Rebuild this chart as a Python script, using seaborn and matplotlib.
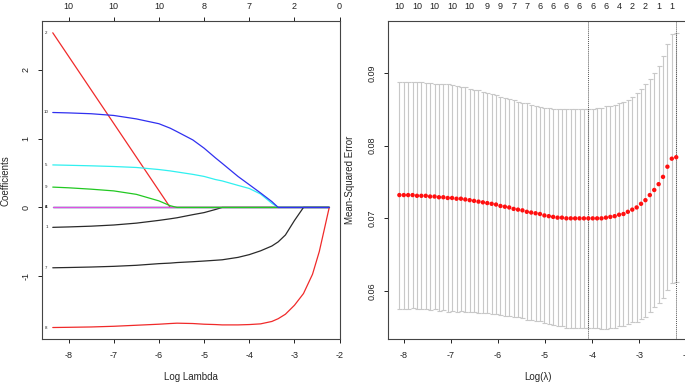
import matplotlib
matplotlib.use("Agg")
import numpy as np
import pandas as pd
import seaborn as sns
import matplotlib.pyplot as plt

# ---- left panel: lasso coefficient paths ----
path_loglam = [-8.35, -8.0, -7.5, -7.0, -6.5, -6.0, -5.75, -5.6, -5.25, -5.0, -4.75, -4.6,
               -4.25, -4.0, -3.75, -3.5, -3.36, -3.2, -3.0, -2.8, -2.6, -2.45, -2.35, -2.23]
coef_1 = [-0.289, -0.283, -0.272, -0.255, -0.228, -0.188, -0.165, -0.15, -0.105, -0.075, -0.03, 0,
          0, 0, 0, 0, 0, 0, 0, 0, 0, 0, 0, 0]
coef_2 = [2.535, 2.194, 1.706, 1.219, 0.731, 0.244, 0, 0, 0, 0, 0, 0,
          0, 0, 0, 0, 0, 0, 0, 0, 0, 0, 0, 0]
coef_3 = [0.0] * 24
coef_4 = [0.0] * 24
coef_5 = [0.617, 0.612, 0.604, 0.594, 0.58, 0.55, 0.53, 0.515, 0.48, 0.45, 0.405, 0.385,
          0.32, 0.275, 0.195, 0.06, 0, 0, 0, 0, 0, 0, 0, 0]
coef_6 = [0.0] * 24
coef_7 = [-0.876, -0.872, -0.865, -0.855, -0.84, -0.816, -0.808, -0.80, -0.788, -0.778, -0.767, -0.76,
          -0.725, -0.685, -0.63, -0.56, -0.50, -0.40, -0.19, 0, 0, 0, 0, 0]
coef_8 = [-1.743, -1.74, -1.735, -1.725, -1.71, -1.695, -1.685, -1.68, -1.685, -1.695, -1.70, -1.705,
          -1.705, -1.70, -1.69, -1.655, -1.615, -1.55, -1.42, -1.25, -0.97, -0.64, -0.35, 0]
coef_9 = [0.295, 0.285, 0.265, 0.24, 0.19, 0.095, 0.025, 0, 0, 0, 0, 0,
          0, 0, 0, 0, 0, 0, 0, 0, 0, 0, 0, 0]
coef_10 = [1.378, 1.372, 1.36, 1.335, 1.285, 1.215, 1.15, 1.10, 0.98, 0.86, 0.72, 0.64,
           0.45, 0.33, 0.21, 0.085, 0, 0, 0, 0, 0, 0, 0, 0]
coefs = [coef_1, coef_2, coef_3, coef_4, coef_5, coef_6, coef_7, coef_8, coef_9, coef_10]
var_names = [str(i) for i in range(1, 11)]
top_df_left = ["10", "10", "10", "8", "7", "2", "0"]

# ---- right panel: cross-validation curve ----
cv_loglam = [-8.090, -7.997, -7.904, -7.810, -7.717, -7.624, -7.531, -7.438, -7.344, -7.251,
             -7.158, -7.065, -6.972, -6.878, -6.785, -6.692, -6.599, -6.506, -6.412, -6.319,
             -6.226, -6.133, -6.040, -5.946, -5.853, -5.760, -5.667, -5.574, -5.480, -5.387,
             -5.294, -5.201, -5.108, -5.014, -4.921, -4.828, -4.735, -4.642, -4.548, -4.455,
             -4.362, -4.269, -4.176, -4.082, -3.989, -3.896, -3.803, -3.710, -3.616, -3.523,
             -3.430, -3.337, -3.244, -3.150, -3.057, -2.964, -2.871, -2.778, -2.684, -2.591,
             -2.498, -2.405, -2.312, -2.218]
cv_mean = [0.0732, 0.0732, 0.0732, 0.0732, 0.0731, 0.0731, 0.0731, 0.0730, 0.0730, 0.0729,
           0.0729, 0.0728, 0.0728, 0.0727, 0.0727, 0.0726, 0.0725, 0.0724, 0.0723, 0.0722,
           0.0721, 0.0720, 0.0719, 0.0717, 0.0716, 0.0715, 0.0713, 0.0712, 0.0711, 0.0709,
           0.0708, 0.0707, 0.0706, 0.0704, 0.0703, 0.0702, 0.0701, 0.0701, 0.0700, 0.0700,
           0.0700, 0.0700, 0.0700, 0.0700, 0.0700, 0.0700, 0.0700, 0.0701, 0.0702, 0.0703,
           0.0705, 0.0706, 0.0709, 0.0712, 0.0715, 0.0720, 0.0725, 0.0732, 0.0739, 0.0747,
           0.0757, 0.0771, 0.0782, 0.0784]
cv_upper = [0.0888, 0.0888, 0.0888, 0.0887, 0.0887, 0.0887, 0.0886, 0.0886, 0.0885, 0.0885,
            0.0884, 0.0884, 0.0883, 0.0882, 0.0881, 0.0880, 0.0878, 0.0877, 0.0876, 0.0874,
            0.0872, 0.0871, 0.0869, 0.0867, 0.0866, 0.0864, 0.0862, 0.0860, 0.0859, 0.0858,
            0.0856, 0.0855, 0.0853, 0.0852, 0.0851, 0.0850, 0.0850, 0.0850, 0.0850, 0.0850,
            0.0850, 0.0850, 0.0850, 0.0850, 0.0850, 0.0851, 0.0852, 0.0854, 0.0855, 0.0856,
            0.0858, 0.0860, 0.0863, 0.0867, 0.0872, 0.0878, 0.0885, 0.0892, 0.0900, 0.0910,
            0.0923, 0.0940, 0.0953, 0.0955]
top_idx_right = [0, 4, 8, 12, 16, 20, 23, 26, 29, 32, 35, 38, 41, 44, 47, 50, 53, 56, 59, 62]
top_df_right = ["10", "10", "10", "10", "10", "9", "9", "7", "7", "6",
                "6", "6", "6", "6", "6", "4", "2", "2", "1", "1"]
lambda_min_idx = 43
lambda_1se_idx = 63

sns.set_style("ticks")
plt.rcParams['font.family'] = ['Liberation Sans', 'DejaVu Sans']
plt.rcParams['axes.edgecolor'] = '#444444'
plt.rcParams['axes.linewidth'] = 0.8
plt.rcParams['axes.unicode_minus'] = False

W, H = 685, 383
fig = plt.figure(figsize=(W / 100, H / 100), dpi=100)
ax1 = fig.add_axes([41.7 / W, 43.7 / H, 298.6 / W, 318.3 / H])
ax2 = fig.add_axes([388.3 / W, 43.7 / H, 298.9 / W, 318.3 / H])

# R default palette 1:6 recycled, like matplot
palette = ['#2a2a2a', '#f02a2a', '#22c822', '#3030f0', '#30f0f0', '#e050e0',
           '#2a2a2a', '#f02a2a', '#22c822', '#3030f0']

# draw one by one so later variables sit on top (as matplot does)
for k, (name, c, col) in enumerate(zip(var_names, coefs, palette)):
    sns.lineplot(x=path_loglam, y=c, color=col, lw=0.9, estimator=None, sort=False,
                 zorder=3 + k, ax=ax1)
    ax1.text(-8.49, c[0], name, fontsize=3.2, ha='center', va='center', color='#222222')

ax1.set_xlim(-8.595, -1.985)
ax1.set_ylim(-1.914, 2.706)
ax1.set_xticks(range(-8, -1))
ax1.set_yticks([-1, 0, 1, 2])
ax1.set_xlabel("Log Lambda", fontsize=7, labelpad=9)
ax1.set_ylabel("Coefficients", fontsize=7, labelpad=8)
sec1 = ax1.secondary_xaxis('top')
sec1.set_xticks(range(-8, -1), labels=top_df_left)
sec1.tick_params(labelsize=6.5, length=3, width=0.7, pad=4.5, colors='#222222')
sec1.spines['top'].set_visible(False)

# right panel
mean = np.array(cv_mean)
upper = np.array(cv_upper)
lower = mean - (upper - mean)
ax2.errorbar(cv_loglam, mean, yerr=[mean - lower, upper - mean], fmt='none',
             ecolor='#c8c8c8', elinewidth=0.8, capsize=1.8, capthick=0.8, zorder=1)
sns.scatterplot(x=cv_loglam, y=cv_mean, color='#ff1010', s=10, edgecolor='none',
                zorder=3, ax=ax2)
for i in (lambda_min_idx, lambda_1se_idx):
    ax2.axvline(cv_loglam[i], color='#555555', lw=0.7, ls=(0, (1, 1)), zorder=2)

ax2.set_xlim(-8.325, -1.985)
ax2.set_ylim(0.05338, 0.09712)
ax2.set_xticks(range(-8, -1))
ax2.set_yticks([0.06, 0.07, 0.08, 0.09])
ax2.set_xlabel("Log(\u03bb)", fontsize=7, labelpad=9)
ax2.set_ylabel("Mean-Squared Error", fontsize=7, labelpad=9)
sec2 = ax2.secondary_xaxis('top')
sec2.set_xticks([cv_loglam[i] for i in top_idx_right], labels=top_df_right)
sec2.tick_params(labelsize=6.5, length=0, pad=7.5, colors='#222222')
sec2.spines['top'].set_visible(False)

for ax in (ax1, ax2):
    for s in ax.spines.values():
        s.set_visible(True)
        s.set_zorder(20)
    ax.tick_params(labelsize=6.5, length=3.2, width=0.7, pad=5, colors='#222222')
    ax.tick_params(axis='y', labelrotation=90)
    for lab in ax.get_yticklabels():
        lab.set_va('center')

fig.savefig("out.png", dpi=100)
